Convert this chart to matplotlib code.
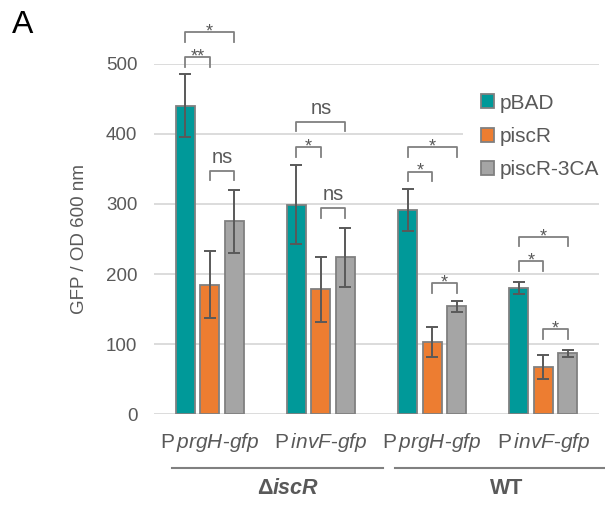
import numpy as np
import matplotlib.pyplot as plt
from matplotlib.lines import Line2D

plt.rcParams['font.family'] = ['Liberation Sans', 'DejaVu Sans']
plt.rcParams['mathtext.fontset'] = 'custom'
plt.rcParams['mathtext.rm'] = 'Liberation Sans'
plt.rcParams['mathtext.it'] = 'Liberation Sans:italic'

# data
genes = ['prgH', 'invF', 'prgH', 'invF']
series = ['pBAD', 'piscR', 'piscR-3CA']
pbad = [440, 299, 292, 180]
pbad_err = [45, 56, 30, 9]
piscr = [185, 178, 103, 67]
piscr_err = [48, 47, 21, 17]
pisc3 = [275, 224, 154, 87]
pisc3_err = [45, 42, 8, 5]
strains = ['iscR', 'WT']

# significance: (group, bar a, bar b, bracket height, label)
sig = [
    (0, 0, 1, 509, '**'), (0, 0, 2, 545, '*'), (0, 1, 2, 347, 'ns'),
    (1, 0, 2, 417, 'ns'), (1, 0, 1, 381, '*'), (1, 1, 2, 294, 'ns'),
    (2, 0, 2, 381, '*'), (2, 0, 1, 346, '*'), (2, 1, 2, 187, '*'),
    (3, 0, 2, 253, '*'), (3, 0, 1, 218, '*'), (3, 1, 2, 121, '*'),
]

colors = ['#009999', '#ED7D31', '#A5A5A5']
vals = [pbad, piscr, pisc3]
errs = [pbad_err, piscr_err, pisc3_err]
offs = [-0.22, 0, 0.22]

fig = plt.figure(figsize=(6.05, 5.08), dpi=100)
ax = fig.add_axes([154/605, 1-414.3/508, 445/605, 350.6/508])

x = np.arange(len(genes))
for i in range(3):
    ax.bar(x + offs[i], vals[i], width=0.17, color=colors[i], edgecolor='#808080',
           linewidth=1.3, yerr=errs[i], label=series[i], zorder=2,
           error_kw=dict(ecolor='#595959', elinewidth=1.4, capsize=4.5, capthick=1.4))

ax.set_xlim(-0.5, 3.5)
ax.set_ylim(0, 500)
ax.set_yticks(range(0, 501, 100))
ax.yaxis.grid(True, color='#d9d9d9', linewidth=1.3)
ax.set_axisbelow(True)
for s in ax.spines.values():
    s.set_visible(False)
ax.tick_params(axis='y', length=0, labelsize=13.5, labelcolor='#595959', pad=12)
ax.set_xticks(x)
ax.set_xticklabels(['P$\\,\\mathit{%s}$-$\\mathit{gfp}$' % g for g in genes])
ax.tick_params(axis='x', length=0, labelsize=15, labelcolor='#595959', pad=12)

# brackets
leg = 13.5
for g, a, b, h, t in sig:
    xa = x[g] + offs[a]
    xb = x[g] + offs[b]
    ax.plot([xa, xa, xb, xb], [h - leg, h, h, h - leg], color='#808080', lw=1.3,
            clip_on=False, zorder=3)
    if t == 'ns':
        ax.annotate(t, ((xa + xb) / 2, h), xytext=(0, 5.8), textcoords='offset points',
                    ha='center', va='baseline', fontsize=14.5, color='#595959',
                    annotation_clip=False)
    else:
        ax.annotate(t, ((xa + xb) / 2, h), xytext=(0, -3), textcoords='offset points',
                    ha='center', va='baseline', fontsize=13, color='#595959',
                    annotation_clip=False)

ax.legend(loc='upper left', bbox_to_anchor=(463/605, 1-76/508), bbox_transform=fig.transFigure,
          frameon=True, edgecolor='none', facecolor='white', framealpha=1, fancybox=False,
          fontsize=15, handlelength=0.65, handleheight=0.65, handletextpad=0.25,
          labelspacing=0.68, borderpad=0.85, borderaxespad=0, labelcolor='#595959')

fig.text(80/605, 1-239/508, 'GFP / OD 600 nm', rotation=90, ha='center', va='center',
         fontsize=13.5, color='#595959')
fig.text(12/605, 1-25/508, 'A', fontsize=23, ha='left', va='center')

# strain lines and labels
fig.add_artist(Line2D([171.7/605, 382.7/605], [1-468.3/508]*2, color='#808080', lw=1.5))
fig.add_artist(Line2D([395/605, 1.0], [1-468.3/508]*2, color='#808080', lw=1.5))
fig.text(273/605, 1-489/508, '\u0394', fontsize=15.5, fontweight='bold', ha='right',
         va='center', color='#595959')
fig.text(273/605, 1-489/508, strains[0], fontsize=15.5, fontweight='bold', style='italic',
         ha='left', va='center', color='#595959')
fig.text(506.7/605, 1-489/508, strains[1], fontsize=15.5, fontweight='bold', ha='center',
         va='center', color='#595959')

fig.savefig('out.png', dpi=100)
